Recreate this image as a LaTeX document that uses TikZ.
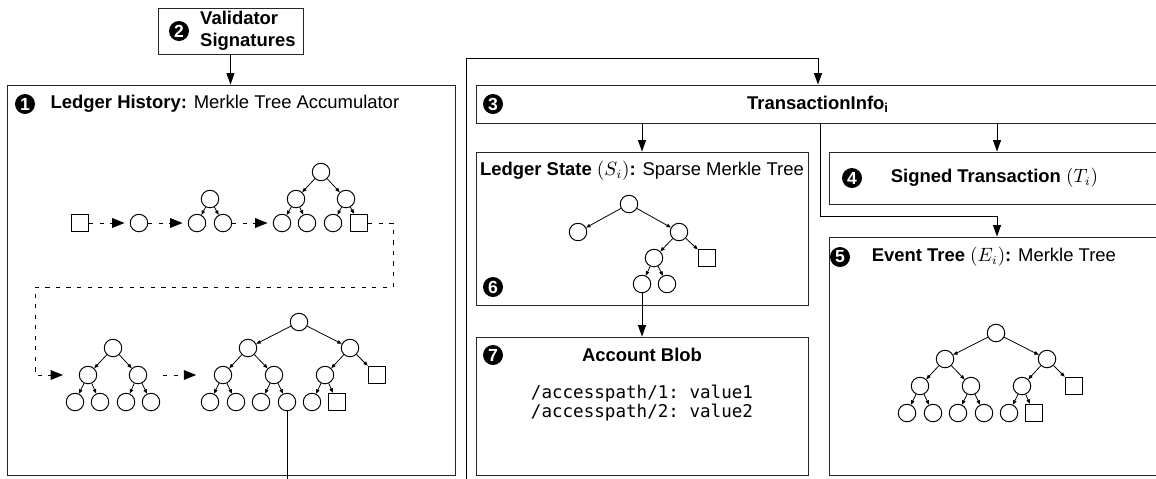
\documentclass[tikz,border=0pt]{standalone}
\usepackage{fontspec}
\setmainfont{Liberation Sans}
\newfontfamily\codefont{DejaVu Sans Mono}
\usetikzlibrary{positioning,arrows.meta,calc}

\tikzset{
  hnode/.style={circle, draw, line width=0.55pt, minimum size=0.35cm, inner sep=0pt},
  hleaf/.style={rectangle, draw, line width=0.55pt, minimum size=0.35cm, inner sep=0pt},
  badge/.style={circle, fill=black, text=white, minimum size=0.4cm, inner sep=0pt,
    font=\fontsize{10}{10}\selectfont\bfseries},
  panel/.style={rectangle, draw=black!85, line width=0.5pt, inner sep=0pt},
  lbl/.style={inner sep=0pt, font=\fontsize{10.5}{12.5}\selectfont},
  blbl/.style={lbl, font=\fontsize{10.5}{12.5}\selectfont\bfseries},
  flow/.style={-{Triangle[length=6.5pt,width=4.5pt]}, line width=0.55pt},
  dflow/.style={-{Triangle[length=7pt,width=5.5pt]}, line width=0.55pt,
    dash pattern=on 2.4pt off 3.6pt, shorten >=3pt},
  tedge/.style={-{Triangle[length=2.5pt,width=2pt]}, line width=0.45pt},
}

% merkle tree with six leaves: prefix, x, y of the root
\newcommand{\mtree}[3]{%
  \begin{scope}[shift={(#2,#3)}]
    \node[hnode] (#1r) at (0,0) {};
    \node[hnode] (#1a) at (-51,26) {};
    \node[hnode] (#1b) at (51,26) {};
    \node[hnode] (#1c) at (-76,53) {};
    \node[hnode] (#1d) at (-25,53) {};
    \node[hnode] (#1e) at (26,53) {};
    \node[hleaf] (#1f) at (78,53) {};
    \node[hnode] (#1g) at (-89,80) {};
    \node[hnode] (#1h) at (-63,80) {};
    \node[hnode] (#1i) at (-38,80) {};
    \node[hnode] (#1j) at (-12,80) {};
    \node[hnode] (#1k) at (13,80) {};
    \node[hleaf] (#1l) at (38,80) {};
  \end{scope}
  \foreach \p/\c in {r/a,r/b,a/c,a/d,b/e,b/f,c/g,c/h,d/i,d/j,e/k,e/l}
    \draw[tedge] (#1\p) -- (#1\c);}

\begin{document}
\begin{tikzpicture}[x=0.02cm, y=-0.02cm]
      \clip (0,0) rectangle (1156,478);
      % Define panels
      \node[panel, minimum width=2.9cm, minimum height=0.92cm] (sig) at (230.5,31) {};
      \node[panel, minimum width=8.96cm, minimum height=7.8cm] (hist) at (231,280) {};
      \node[panel, minimum width=13.78cm, minimum height=0.76cm] (tinfo) at (820.5,104) {};
      \node[panel, minimum width=6.64cm, minimum height=3.06cm] (state) at (642,228.5) {};
      \node[panel, minimum width=6.64cm, minimum height=2.76cm] (blob) at (642,406) {};
      \node[panel, minimum width=6.72cm, minimum height=1.04cm] (signed) at (997,178) {};
      \node[panel, minimum width=6.72cm, minimum height=4.76cm] (event) at (997,356) {};

      % Badges and titles
      \node[badge] (b2) at (179,31) {2};
      \node[blbl, align=left, right=6pt of b2] (sigt) {Validator\\Signatures};
      \node[badge] (b1) at (25,104) {1};
      \node[lbl, right=8.5pt of b1] (histt) {\textbf{Ledger History:} Merkle Tree Accumulator};
      \node[badge] (b3) at (493,104) {3};
      \node[blbl] (tinfot) at (818,104) {TransactionInfo\textsubscript{i}};
      \node[lbl] (statet) at (642,171) {\textbf{Ledger State} $(S_i)$\textbf{:} Sparse Merkle Tree};
      \node[badge] (b6) at (493,287) {6};
      \node[badge] (b7) at (493,355) {7};
      \node[blbl] (blobt) at (642,355) {Account Blob};
      \node[inner sep=0pt, align=left, font=\codefont\fontsize{10}{9.5}\selectfont\frenchspacing]
        (code) at (642,403) {/accesspath/1: value1\\/accesspath/2: value2};
      \node[badge] (b4) at (852,178) {4};
      \node[lbl, right=16pt of b4] (signedt) {\textbf{Signed Transaction} $(T_i)$};
      \node[badge] (b5) at (840,257) {5};
      \node[lbl, right=12pt of b5] (eventt) {\textbf{Event Tree} $(E_i)$\textbf{:} Merkle Tree};

      % Accumulator, first row
      \node[hleaf] (q0) at (80,223) {};
      \node[hnode] (q1) at (139,223) {};
      \node[hnode] (p2r) at (210,199) {};
      \node[hnode] (p2a) at (197,223) {};
      \node[hnode] (p2b) at (223,223) {};
      \node[hnode] (p3r) at (321,172) {};
      \node[hnode] (p3a) at (296,199) {};
      \node[hnode] (p3b) at (346,199) {};
      \node[hnode] (p3c) at (282,223) {};
      \node[hnode] (p3d) at (307,223) {};
      \node[hnode] (p3e) at (333,223) {};
      \node[hleaf] (p3f) at (359,223) {};
      \foreach \p/\c in {p2r/p2a,p2r/p2b,p3r/p3a,p3r/p3b,p3a/p3c,p3a/p3d,p3b/p3e,p3b/p3f}
        \draw[tedge] (\p) -- (\c);

      % Accumulator, second row
      \node[hnode] (ar) at (113,348) {};
      \node[hnode] (aa) at (88,375) {};
      \node[hnode] (ab) at (138,375) {};
      \node[hnode] (ac) at (75,402) {};
      \node[hnode] (ad) at (100,402) {};
      \node[hnode] (ae) at (126,402) {};
      \node[hnode] (af) at (151,402) {};
      \foreach \p/\c in {ar/aa,ar/ab,aa/ac,aa/ad,ab/ae,ab/af}
        \draw[tedge] (\p) -- (\c);
      \mtree{hb}{299}{322}

      % Sparse merkle tree
      \node[hnode] (sr) at (629,204) {};
      \node[hnode] (sa) at (578,232) {};
      \node[hnode] (sb) at (679,232) {};
      \node[hnode] (sc) at (654,258) {};
      \node[hleaf] (sd) at (707,258) {};
      \node[hnode] (se) at (642,284) {};
      \node[hnode] (sf) at (667,284) {};
      \foreach \p/\c in {sr/sa,sr/sb,sb/sc,sb/sd,sc/se,sc/sf}
        \draw[tedge] (\p) -- (\c);

      % Event tree
      \mtree{ev}{996}{333}

      % Connect nodes
      \draw[dflow] (q0) -- (q1);
      \draw[dflow] (q1) -- (p2a);
      \draw[dflow] (p2b) -- (p3c);
      \draw[dflow, shorten >=9pt] (p3f) -- ++(34,0) |- (35,287) |- (aa);
      \draw[dflow, shorten <=9pt, shorten >=10pt] (ab) -- (hbc);
      \draw[flow] (sig.south) -- (sig.south |- hist.north);
      \coordinate (hout) at (287,490);
      \draw[line width=0.55pt] (hbj) -- (hout);
      \coordinate (tin) at (466,490);
      \coordinate (tbend) at (818,58);
      \draw[flow] (tin) |- (tbend) -- (tbend |- tinfo.north);
      \draw[flow] (state.north |- tinfo.south) -- (state.north);
      \draw[flow] (signed.north |- tinfo.south) -- (signed.north);
      \draw[flow] (tinfo.south) |- ($(event.north)+(0,-20)$) -- (event.north);
      \draw[flow] (se) -- (se |- blob.north);
    \end{tikzpicture}
\end{document}
